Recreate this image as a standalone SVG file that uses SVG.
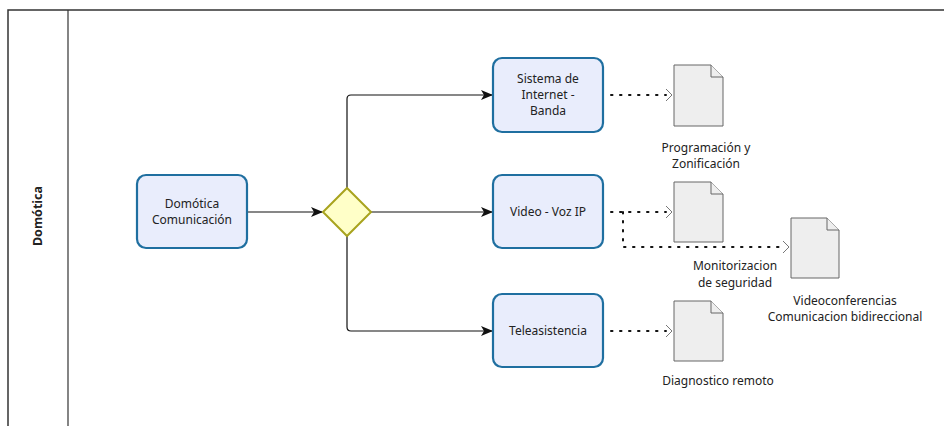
<svg xmlns="http://www.w3.org/2000/svg" width="944" height="426" viewBox="0 0 944 426">
<style>
text{font-family:"Noto Sans","Open Sans",sans-serif;font-size:12px;fill:#222;}
.task{fill:#e9edfc;stroke:#1f6fa0;stroke-width:2.2;}
.doc{fill:#eeeeee;stroke:#666;stroke-width:1;}
.flow{fill:none;stroke:#111;stroke-width:1.2;}
.assoc{fill:none;stroke:#111;stroke-width:2;stroke-dasharray:1.5 7.5;stroke-linecap:round;}
.chev{fill:none;stroke:#777;stroke-width:1;}
</style>
<defs>
<marker id="arr" viewBox="0 0 12 10" refX="11" refY="5" markerWidth="12" markerHeight="10" markerUnits="userSpaceOnUse" orient="auto">
<path d="M0,0 L12,5 L0,10 L3,5 Z" fill="#111"/>
</marker>
</defs>
<g id="pool">
<path d="M944,10 H8 V426" fill="none" stroke="#333" stroke-width="1.5"/>
<line x1="68" y1="10" x2="68" y2="426" stroke="#333" stroke-width="1.2"/>
<text x="42" y="216" transform="rotate(-90 42 216)" text-anchor="middle" style="font-weight:bold;font-size:12.5px">Domótica</text>
</g>
<g id="connectors">
<line class="flow" x1="247" y1="212" x2="322" y2="212" marker-end="url(#arr)"/>
<path class="flow" d="M347,188 V99 Q347,95 351,95 H492" marker-end="url(#arr)"/>
<line class="flow" x1="371" y1="212" x2="492" y2="212" marker-end="url(#arr)"/>
<path class="flow" d="M347,236 V327 Q347,331 351,331 H492" marker-end="url(#arr)"/>
<line class="assoc" x1="611" y1="95" x2="666" y2="95"/>
<path class="chev" d="M666,89 L672,95 L666,101"/>
<line class="assoc" x1="611" y1="212" x2="666" y2="212"/>
<path class="chev" d="M666,206 L672,212 L666,218"/>
<path class="assoc" d="M623,212 V247 H783"/>
<path class="chev" d="M783,241 L789,247 L783,253"/>
<line class="assoc" x1="611" y1="331" x2="666" y2="331"/>
<path class="chev" d="M666,325 L672,331 L666,337"/>
</g>
<g id="n_domotica">
<rect class="task" x="137" y="175" width="110" height="73" rx="9"/>
<text x="192" y="208" text-anchor="middle">Domótica</text>
<text x="192" y="224" text-anchor="middle">Comunicación</text>
</g>
<g id="n_gateway">
<path d="M347,188 L371,212 L347,236 L323,212 Z" fill="#ffffc8" stroke="#a8a31e" stroke-width="2"/>
</g>
<g id="n_sistema">
<rect class="task" x="493" y="58" width="110" height="74" rx="9"/>
<text x="548" y="83" text-anchor="middle">Sistema de</text>
<text x="548" y="99" text-anchor="middle">Internet -</text>
<text x="548" y="115" text-anchor="middle">Banda</text>
</g>
<g id="n_video">
<rect class="task" x="493" y="175" width="110" height="73" rx="9"/>
<text x="548" y="216" text-anchor="middle">Video - Voz IP</text>
</g>
<g id="n_tele">
<rect class="task" x="493" y="294" width="110" height="73" rx="9"/>
<text x="548" y="335" text-anchor="middle">Teleasistencia</text>
</g>
<g id="d_programacion">
<path class="doc" d="M674,65 H711 L723,77 V126 H674 Z"/>
<path class="doc" d="M711,65 V77 H723" fill="none"/>
<text x="706" y="152" text-anchor="middle">Programación y</text>
<text x="706" y="168" text-anchor="middle">Zonificación</text>
</g>
<g id="d_monitorizacion">
<path class="doc" d="M674,182 H711 L723,194 V242 H674 Z"/>
<path class="doc" d="M711,182 V194 H723" fill="none"/>
<text x="735" y="270" text-anchor="middle">Monitorizacion</text>
<text x="735" y="287" text-anchor="middle">de seguridad</text>
</g>
<g id="d_video">
<path class="doc" d="M791,218 H827 L839,230 V278 H791 Z"/>
<path class="doc" d="M827,218 V230 H839" fill="none"/>
<text x="845" y="305" text-anchor="middle">Videoconferencias</text>
<text x="845" y="321" text-anchor="middle">Comunicacion bidireccional</text>
</g>
<g id="d_diagnostico">
<path class="doc" d="M674,301 H711 L723,313 V361 H674 Z"/>
<path class="doc" d="M711,301 V313 H723" fill="none"/>
<text x="718" y="385" text-anchor="middle">Diagnostico remoto</text>
</g>
</svg>
